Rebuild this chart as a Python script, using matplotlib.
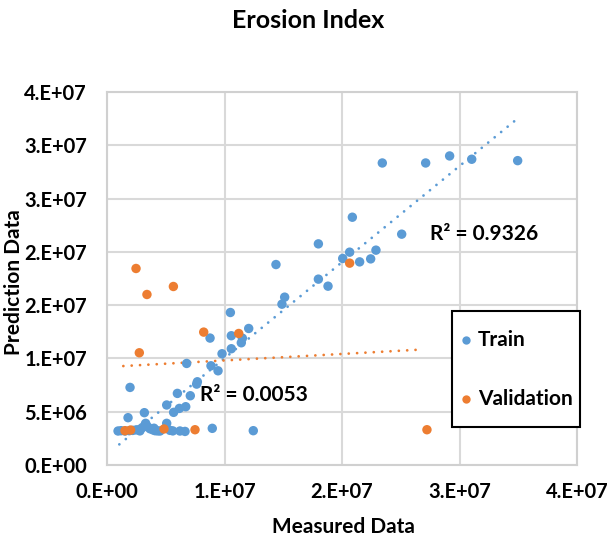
import matplotlib
matplotlib.use("Agg")
import matplotlib.pyplot as plt
from matplotlib.lines import Line2D
from matplotlib.patches import Rectangle
import numpy as np

plt.rcParams['font.family'] = ['Lato', 'DejaVu Sans']

# ---- data (values in units of 1e7) ----
train_x = [2.343, 2.712, 2.916, 3.104, 3.495,
           2.088, 2.508, 1.799, 2.065, 2.006, 2.150, 2.244, 2.289,
           1.438, 1.799, 1.881, 1.512, 1.489,
           1.050, 1.206, 1.058, 1.143, 1.152, 0.877, 1.058, 0.979,
           0.678, 0.885, 0.945, 0.769, 0.763, 0.196, 0.599, 0.709,
           0.508, 0.567, 0.616, 0.670, 0.318, 0.179, 0.508, 0.329,
           1.245, 0.896,
           0.094, 0.120, 0.153, 0.190, 0.221, 0.250, 0.281, 0.300, 0.323, 0.345,
           0.366, 0.390, 0.409, 0.430, 0.451, 0.536, 0.621, 0.664, 0.400, 0.280, 0.560]
train_y = [2.834, 2.834, 2.900, 2.869, 2.856,
           2.325, 2.166, 2.075, 1.997, 1.938, 1.906, 1.934, 2.016,
           1.881, 1.744, 1.678, 1.575, 1.509,
           1.431, 1.281, 1.213, 1.147, 1.190, 1.191, 1.091, 1.044,
           0.953, 0.931, 0.884, 0.781, 0.759, 0.728, 0.672, 0.650,
           0.563, 0.494, 0.531, 0.547, 0.491, 0.444, 0.391, 0.391,
           0.322, 0.344,
           0.319, 0.322, 0.319, 0.322, 0.325, 0.330, 0.335, 0.350, 0.375, 0.360,
           0.340, 0.330, 0.322, 0.320, 0.319, 0.325, 0.319, 0.315, 0.345, 0.320, 0.320]
val_x = [0.247, 0.565, 0.340, 0.823, 1.121, 0.275, 2.065, 2.723, 0.749, 0.485, 0.153, 0.201]
val_y = [1.844, 1.675, 1.600, 1.247, 1.234, 1.053, 1.894, 0.331, 0.331, 0.338, 0.322, 0.328]

# Excel linear trendlines: slope, intercept (1e7 units), x-range
train_trend = [0.902, 0.099, 0.105, 3.495]
val_trend = [0.061, 0.920, 0.139, 2.692]

series_names = ["Train", "Validation"]
x_ticks = [0, 1e7, 2e7, 3e7, 4e7]
x_tick_labels = ["0.E+00", "1.E+07", "2.E+07", "3.E+07", "4.E+07"]
y_ticks = [0, 5e6, 1e7, 1.5e7, 2e7, 2.5e7, 3e7, 3.5e7]
y_tick_labels = ["0.E+00", "5.E+06", "1.E+07", "2.E+07", "2.E+07", "3.E+07", "3.E+07", "4.E+07"]
r2_train_text = "R² = 0.9326"
r2_val_text = "R² = 0.0053"

scale = 1e7
tx = np.array(train_x) * scale
ty = np.array(train_y) * scale
vx = np.array(val_x) * scale
vy = np.array(val_y) * scale

blue = '#5B9BD5'
orange = '#ED7D31'
colors = [blue, orange]

W, H = 609, 543
fig = plt.figure(figsize=(W/100, H/100), dpi=100)
ax = fig.add_axes([107/W, 1-465/H, (577-107)/W, (465-92)/H])

ax.scatter(tx, ty, s=46, color=blue, edgecolors='none', zorder=3)
ax.scatter(vx, vy, s=46, color=orange, edgecolors='none', zorder=3)

for (k, b, x0, x1), c in [(train_trend, blue), (val_trend, orange)]:
    xl = np.array([x0, x1])
    ax.plot(xl * scale, (k*xl + b) * scale, color=c, lw=2, linestyle=(0, (0.01, 3)),
            dash_capstyle='round', zorder=2)

ax.set_xlim(0, 4e7)
ax.set_ylim(0, 3.5e7)
ax.set_xticks(x_ticks)
ax.set_xticklabels(x_tick_labels)
ax.set_yticks(y_ticks)
ax.set_yticklabels(y_tick_labels)
ax.tick_params(length=0, labelsize=14.5)
ax.tick_params(axis='y', pad=14.5)
ax.tick_params(axis='x', pad=12)
for lab in ax.get_xticklabels() + ax.get_yticklabels():
    lab.set_fontweight('bold')
ax.grid(True, color='#D9D9D9', lw=1.5)
ax.set_axisbelow(True)
for sp in ax.spines.values():
    sp.set_color('#D0D0D0')
    sp.set_linewidth(1.5)

ax.text(2.749e7, 2.166e7, r2_train_text, fontsize=15, fontweight='bold', va='center', ha='left')
ax.text(0.791e7, 0.656e7, r2_val_text, fontsize=15, fontweight='bold', va='center', ha='left')

fig.text(308/W, 1-21/H, "Erosion Index", fontsize=18, fontweight='bold', ha='center', va='center')
fig.text(343/W, 1-527/H, "Measured Data", fontsize=15, fontweight='bold', ha='center', va='center')
fig.text(14/W, 1-282/H, "Prediction Data", fontsize=15, fontweight='bold', ha='center', va='center', rotation=90)

# legend box (Excel style, overlapping plot edge)
fig.add_artist(Rectangle((452/W, 1-427/H), (580-452)/W, (427-311)/H, transform=fig.transFigure,
                         facecolor='white', edgecolor='black', lw=1.5, zorder=5))
for name, c, yp in zip(series_names, colors, [340, 399]):
    fig.add_artist(Line2D([466/W], [1-yp/H], transform=fig.transFigure, marker='o',
                          markersize=6, color=c, markeredgecolor='none', linestyle='none', zorder=6))
    fig.text(478/W, 1-yp/H, name, fontsize=15, fontweight='bold', ha='left', va='center', zorder=6)

fig.savefig('out.png', dpi=100)
